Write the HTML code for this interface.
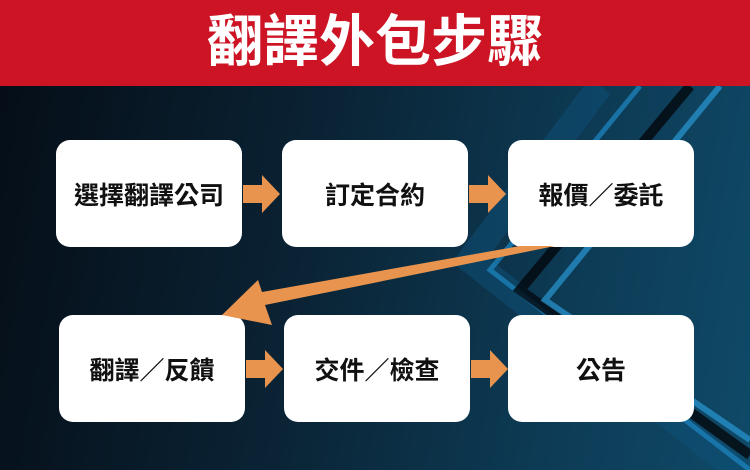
<!DOCTYPE html>
<html><head><meta charset="utf-8"><style>
body{margin:0;width:750px;height:470px;overflow:hidden;position:relative;font-family:"Liberation Sans","Noto Sans CJK TC",sans-serif;background:linear-gradient(100deg,#050d16 0%,#0a2233 40%,#0d3b55 75%,#0f4a68 100%);}
.hdr{position:absolute;left:0;top:0;width:750px;height:86px;background:#cc1424;color:#fff;font-weight:bold;font-size:56px;text-align:center;line-height:84px}
.b{position:absolute;width:186px;height:107px;background:#fff;border-radius:14px;display:flex;align-items:center;justify-content:center;font-weight:bold;font-size:25px;color:#111}
svg{position:absolute;left:0;top:0}
</style></head><body>
<svg width="750" height="470">
<g fill="none">
<polyline points="600,86 470,260 750,480" stroke="#0e4f78" stroke-width="26" opacity=".5"/>
<polyline points="640,86 490,270 750,470" stroke="#1b7fb8" stroke-width="5" opacity=".8"/>
<polyline points="690,86 520,290 750,455" stroke="#04080d" stroke-width="10" opacity=".8"/>
<polyline points="720,86 545,300 750,440" stroke="#2a98d4" stroke-width="6" opacity=".7"/>
</g>
</svg>
<div class="hdr">翻譯外包步驟</div>
<div class="b" style="left:56px;top:140px">選擇翻譯公司</div>
<div class="b" style="left:282px;top:140px">訂定合約</div>
<div class="b" style="left:508px;top:140px">報價／委託</div>
<div class="b" style="left:59px;top:315px">翻譯／反饋</div>
<div class="b" style="left:284px;top:315px">交件／檢查</div>
<div class="b" style="left:508px;top:315px">公告</div>
<svg width="750" height="470">
<g fill="#e8934e">
<polygon points="243,185 262,185 262,175 280,194 262,213 262,203 243,203"/>
<polygon points="469,185 488,185 488,175 506,194 488,213 488,203 469,203"/>
<polygon points="246,360 265,360 265,350 283,369 265,388 265,378 246,378"/>
<polygon points="471,360 490,360 490,350 508,369 490,388 490,378 471,378"/>
<polygon points="540,246 555,246 265,305 272,325 222,315 258,280 262,292 520,246"/>
</g>
</svg>
</body></html>
